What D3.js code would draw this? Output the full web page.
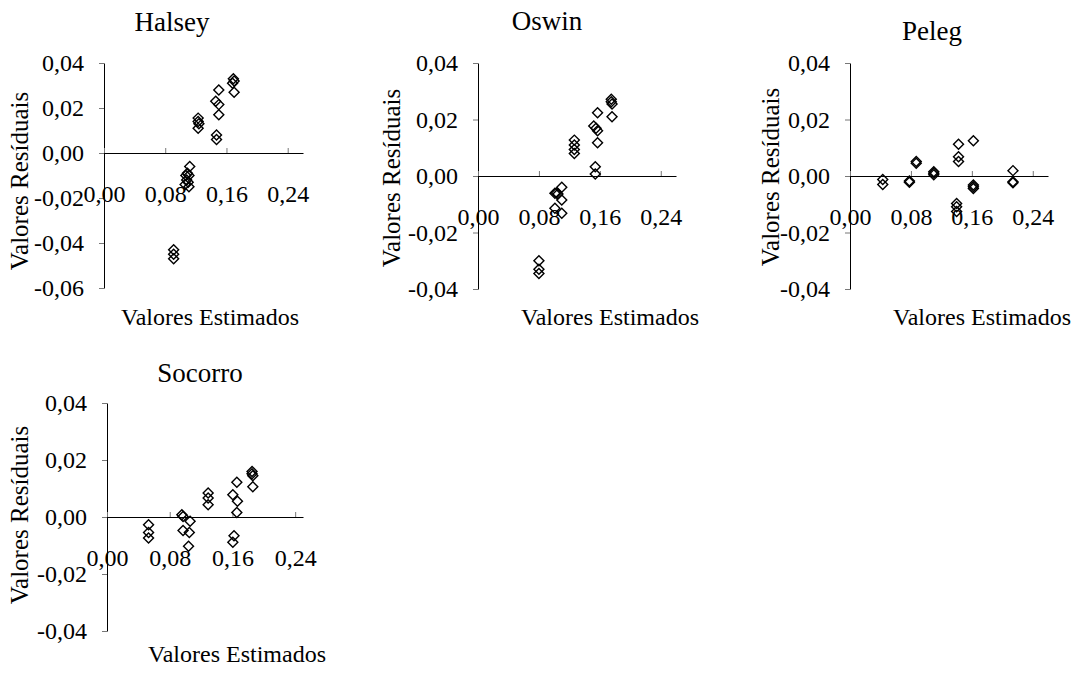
<!DOCTYPE html>
<html>
<head>
<meta charset="utf-8">
<script src="https://cdn.jsdelivr.net/npm/d3@7"></script>
<style>
  body { margin: 0; background: #fff; }
</style>
</head>
<body>
<div id="chart"></div>
<script>
// Residuos vs valores estimados, modelos de isoterma
const modelos = ["Halsey", "Oswin", "Peleg", "Socorro"];

const halseyEst = [0.091, 0.091, 0.091, 0.112, 0.109, 0.107, 0.111, 0.108, 0.110, 0.106, 0.111,
  0.123, 0.123, 0.124, 0.123, 0.147, 0.147, 0.150, 0.146, 0.150, 0.150, 0.169, 0.170, 0.168, 0.170];
const halseyRes = [-0.043, -0.045, -0.047, -0.006, -0.009, -0.010, -0.010, -0.012, -0.013, -0.014, -0.015,
  0.0155, 0.014, 0.013, 0.011, 0.008, 0.006, 0.028, 0.023, 0.0215, 0.017, 0.033, 0.032, 0.031, 0.027];

const oswinEst = [0.080, 0.080, 0.080, 0.110, 0.103, 0.101, 0.105, 0.110, 0.101, 0.110,
  0.1265, 0.1265, 0.1265, 0.1265, 0.157, 0.152, 0.155, 0.157, 0.157, 0.154, 0.154,
  0.175, 0.175, 0.176, 0.176];
const oswinRes = [-0.030, -0.033, -0.0345, -0.004, -0.006, -0.0061, -0.0064, -0.0085, -0.0114, -0.0132,
  0.0127, 0.011, 0.0094, 0.008, 0.0224, 0.0177, 0.0169, 0.016, 0.0118, 0.0033, 0.0007,
  0.0272, 0.0263, 0.0255, 0.021];

const pelegEst = [0.043, 0.043, 0.078, 0.078, 0.087, 0.087, 0.110, 0.110, 0.110,
  0.140, 0.140, 0.140, 0.1425, 0.1425, 0.1425, 0.162, 0.162, 0.162, 0.162,
  0.214, 0.214, 0.214];
const pelegRes = [-0.0012, -0.0030, -0.0018, -0.0022, 0.0051, 0.0045, 0.0015, 0.0010, 0.0004,
  -0.0097, -0.0109, -0.0126, 0.0112, 0.0068, 0.0051, 0.0125, -0.0032, -0.0038, -0.0044,
  0.0019, -0.0020, -0.0024];

const socorroEst = [0.053, 0.053, 0.053, 0.0955, 0.097, 0.106, 0.097, 0.105, 0.104,
  0.129, 0.129, 0.129, 0.1656, 0.1605, 0.1664, 0.1656, 0.162, 0.1605,
  0.185, 0.185, 0.186, 0.186];
const socorroRes = [-0.0027, -0.0054, -0.0074, 0.0008, 0.0002, -0.0015, -0.0047, -0.0054, -0.0103,
  0.0084, 0.0067, 0.0043, 0.0122, 0.0078, 0.0055, 0.0016, -0.0066, -0.0089,
  0.016, 0.0152, 0.0145, 0.0106];

const estimados = [halseyEst, oswinEst, pelegEst, socorroEst];
const residuos = [halseyRes, oswinRes, pelegRes, socorroRes];

const xTicks = [0, 0.08, 0.16, 0.24];
const yTicksHalsey = [0.04, 0.02, 0, -0.02, -0.04, -0.06];
const yTicks = [0.04, 0.02, 0, -0.02, -0.04];
const yDomains = [[-0.06, 0.04], [-0.04, 0.04], [-0.04, 0.04], [-0.04, 0.04]];
const xMax = [0.26, 0.26, 0.26, 0.25];

// layout of each small chart (pixels)
const layout = [
  { l: 104, r: 303, t: 63, b: 288, tx: 172, ty: 31, xtx: 210, xty: 325, ytx: 28, yty: 181 },
  { l: 478, r: 676, t: 63, b: 289, tx: 547, ty: 30, xtx: 610, xty: 325, ytx: 400, yty: 178 },
  { l: 850, r: 1048, t: 63, b: 289, tx: 932, ty: 40, xtx: 982, xty: 325, ytx: 779, yty: 177 },
  { l: 107, r: 303, t: 403, b: 631, tx: 200, ty: 382, xtx: 237, xty: 662, ytx: 28, yty: 515 }
];

// pick the first serif font that is really installed (canvas width test)
function pickFont(list) {
  const ctx = document.createElement("canvas").getContext("2d");
  const probe = "Valores Resíduais 0,04 Halsey";
  ctx.font = "72px monospace";
  const base = ctx.measureText(probe).width;
  for (const f of list) {
    ctx.font = `72px "${f}", monospace`;
    if (Math.abs(ctx.measureText(probe).width - base) > 0.5) return `"${f}", serif`;
  }
  return "serif";
}
const serif = pickFont(["Liberation Serif", "Times New Roman", "Tinos", "Nimbus Roman", "FreeSerif",
  "DejaVu Serif", "Noto Serif", "Bitstream Charter"]);

const br = d3.formatLocale({ decimal: ",", thousands: ".", grouping: [3], currency: ["R$", ""], minus: "-" });
const fmt = br.format(".2f");

const svg = d3.select("#chart")
  .append("svg")
  .attr("width", 1084)
  .attr("height", 675)
  .style("font-family", serif);

function drawPanel(i) {
  const L = layout[i];
  const x = d3.scaleLinear().domain([0, xMax[i]]).range([L.l, L.r]);
  const y = d3.scaleLinear().domain(yDomains[i]).range([L.b, L.t]);
  const g = svg.append("g");

  // y axis
  const yAxis = g.append("g")
    .attr("transform", `translate(${L.l},0)`)
    .call(d3.axisLeft(y).tickValues(i === 0 ? yTicksHalsey : yTicks)
      .tickFormat(fmt).tickSizeInner(5).tickSizeOuter(0).tickPadding(15));
  yAxis.attr("font-family", null).attr("font-size", 24);
  yAxis.select(".domain").attr("stroke", "#000");
  yAxis.selectAll(".tick line").attr("stroke", "#777");

  // x axis (crosses at 0), ticks upward, labels below
  const xAxis = g.append("g")
    .attr("transform", `translate(0,${y(0)})`)
    .call(d3.axisBottom(x).tickValues(xTicks)
      .tickFormat(fmt).tickSizeInner(-5).tickSizeOuter(0));
  xAxis.attr("font-family", null).attr("font-size", 24);
  xAxis.select(".domain").attr("stroke", "#000");
  xAxis.selectAll(".tick line").attr("stroke", "#777");
  xAxis.selectAll(".tick text")
    .attr("y", 49)
    .attr("dy", null);

  // points
  const pts = d3.zip(estimados[i], residuos[i]);
  g.append("g").selectAll("path")
    .data(pts)
    .enter().append("path")
    .attr("d", d3.symbol(d3.symbolSquare, 50))
    .attr("transform", d => `translate(${x(d[0])},${y(d[1])}) rotate(45)`)
    .attr("fill", "none")
    .attr("stroke", "#000")
    .attr("stroke-width", 1.4);

  // titles
  g.append("text")
    .attr("x", L.tx).attr("y", L.ty)
    .attr("text-anchor", "middle")
    .attr("font-size", 27)
    .text(modelos[i]);

  g.append("text")
    .attr("x", L.xtx).attr("y", L.xty)
    .attr("text-anchor", "middle")
    .attr("font-size", 24)
    .text("Valores Estimados");

  g.append("text")
    .attr("transform", `translate(${L.ytx},${L.yty}) rotate(-90)`)
    .attr("text-anchor", "middle")
    .attr("font-size", 25)
    .text("Valores Resíduais");
}

modelos.forEach((m, i) => drawPanel(i));
</script>
</body>
</html>
